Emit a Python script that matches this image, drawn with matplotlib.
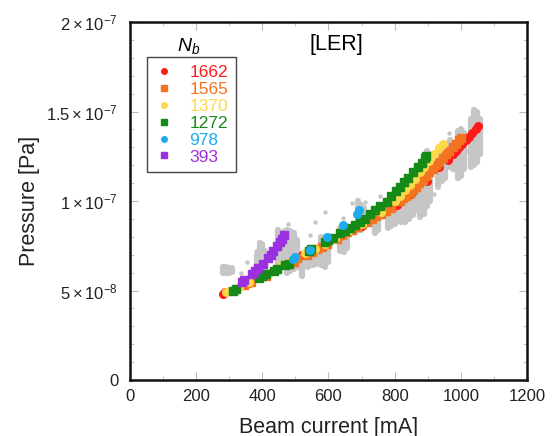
import numpy as np
import matplotlib
matplotlib.use("Agg")
from matplotlib import pyplot as plt
from matplotlib.ticker import FixedLocator, MultipleLocator

plt.rcParams["font.family"] = ["Liberation Sans", "DejaVu Sans"]
plt.rcParams["mathtext.fontset"] = "custom"
plt.rcParams["mathtext.rm"] = "Liberation Sans"
plt.rcParams["mathtext.it"] = "Liberation Sans:italic"
plt.rcParams["mathtext.bf"] = "Liberation Sans:bold"

# pressure values below are in units of 1e-9 Pa
red_x = [281, 288, 520, 640, 700, 760, 798, 806, 850, 899, 935, 960, 975, 985, 995,
         1005, 1015, 1025, 1035, 1045, 1052]
red_y = [48, 49, 70, 81, 86, 93, 97, 98, 104, 111, 119, 123, 126, 128, 130,
         132, 134, 136, 138, 140, 142]

orange_x = [345, 355, 365, 410, 480, 495, 505, 535, 550, 565, 580, 595, 625, 640, 655,
            670, 685, 700, 715, 730, 745, 760, 775, 790, 815, 825, 835, 845, 855, 865,
            875, 885, 895, 905, 915, 925, 935, 945, 955, 965, 975, 985, 995, 1000]
orange_y = [53, 54, 55, 58, 65, 66, 68, 70, 71.5, 73, 74.5, 76, 79, 81, 82.5,
            84, 85.5, 87, 88.5, 90, 91.5, 93, 94.5, 96, 100, 101.5, 103, 104.5, 106, 108,
            110, 112, 114, 116, 118, 120, 122, 124, 126, 128, 130, 132, 134, 135]

yellow_x = [290, 300, 330, 360, 420, 440, 460, 480, 530, 560, 590, 620, 660, 700, 760,
            800, 815, 830, 845, 860, 876, 890, 905, 920, 935, 946]
yellow_y = [49, 50, 52, 55, 60, 62, 64, 66, 71, 73, 76, 79, 83, 87, 94,
            100, 103, 106, 109, 112.5, 116, 119, 122.5, 126, 129.5, 132]

green_x = [310, 320, 390, 400, 410, 435, 445, 470, 480, 540, 548, 590, 600, 615, 635,
           650, 665, 680, 695, 710, 725, 740, 755, 776, 790, 805, 816, 828, 841, 855,
           870, 882, 891, 895]
green_y = [50, 51, 57, 58, 59, 61, 62, 64, 65, 72, 73, 77, 78, 79.5, 82,
           83.5, 85, 86.5, 88, 90, 92.5, 95, 97, 99.5, 103, 105.5, 108, 110.5, 113, 116,
           119, 121.5, 124, 125]

cyan_x = [493, 500, 544, 595, 645, 685, 692]
cyan_y = [67.5, 68.5, 72.6, 80, 86.5, 93, 95]

purple_x = [338, 345, 368, 378, 388, 403, 418, 425, 432, 445, 453, 460, 465]
purple_y = [55, 56, 59, 61, 62.5, 65, 68, 70, 72, 75, 77, 79, 81]

# grey background measurements: vertical streaks (x, low, high) and single dots
gray_x = [280, 290, 300, 308, 385, 393, 400, 408, 448, 458, 475, 485, 495, 505,
          520, 538, 552, 562, 578, 588, 598, 636, 646, 655, 688, 698, 708, 740, 750,
          780, 790, 800, 818, 830, 842, 855, 865, 878, 888, 898, 908, 932, 942, 952,
          968, 975, 990, 1000, 1010, 1030, 1040, 1050, 1057]
gray_lo = [60, 60, 60, 60.5, 60, 58.6, 59, 61, 62, 63, 60, 61, 62, 63,
           58, 63, 64, 65, 64, 63, 66, 72, 71.5, 74, 84, 84, 86, 82, 84,
           85, 86, 87, 88, 88, 90, 92, 95, 91, 93, 97, 100, 108, 111, 113,
           119, 118, 113, 114, 118, 119, 120, 122, 126]
gray_hi = [63, 63, 62.5, 62.5, 70, 76.5, 76, 72, 84, 80, 84, 83, 82, 78,
           68, 72.6, 72, 71, 80, 80, 78, 85, 85.5, 84, 100, 98, 96, 95, 96,
           100, 100.5, 99, 104, 108, 108, 106, 110, 112, 122, 128, 126, 128, 131, 129,
           134, 132, 139, 140, 138, 146, 151, 150, 146]
dot_x = [337, 353, 380, 444, 462, 477, 544, 559, 589, 644, 670, 710, 755, 920, 964, 1020]
dot_y = [60, 66, 72, 83, 84, 87, 81, 88, 94, 90.5, 99, 99.5, 103, 104, 138, 128]

series = [
    ("1662", red_x, red_y, "#ff1a1a", "o"),
    ("1565", orange_x, orange_y, "#f47320", "s"),
    ("1370", yellow_x, yellow_y, "#fcd84a", "o"),
    ("1272", green_x, green_y, "#168a16", "s"),
    ("978", cyan_x, cyan_y, "#1eaaee", "o"),
    ("393", purple_x, purple_y, "#9b30e0", "s"),
]

fig = plt.figure(figsize=(5.52, 4.36), dpi=100)
ax = fig.add_axes([0.2355, 0.1284, 0.7192, 0.8211])

s = 1e-9
ax.vlines(np.array(gray_x), np.array(gray_lo) * s, np.array(gray_hi) * s,
          colors="#c6c6c6", linewidth=4.5, capstyle="round", zorder=1)
ax.scatter(dot_x, np.array(dot_y) * s, s=10, color="#c6c6c6", zorder=1, linewidths=0)

handles = []
for name, xs, ys, col, mk in series:
    ax.plot(xs, np.array(ys) * s, linestyle="none", marker=mk, ms=5.5, color=col,
            mec=col, zorder=2)
    h, = ax.plot([], [], linestyle="none", marker=mk, ms=4, color=col)
    handles.append(h)

ax.set_xlim(0, 1200)
ax.set_ylim(0, 2e-7)
ax.xaxis.set_major_locator(FixedLocator([0, 200, 400, 600, 800, 1000, 1200]))
ax.xaxis.set_minor_locator(MultipleLocator(100))
ax.yaxis.set_major_locator(FixedLocator([0, 5e-8, 1e-7, 1.5e-7, 2e-7]))
ax.yaxis.set_minor_locator(MultipleLocator(1e-8))
ax.set_yticklabels(["0", r"$5\times10^{-8}$", r"$1\times10^{-7}$",
                    r"$1.5\times10^{-7}$", r"$2\times10^{-7}$"])
ax.tick_params(which="both", direction="in", top=True, right=True, color="#bbbbbb",
               labelsize=12, labelcolor="#222222")
ax.tick_params(axis="x", pad=6.5)
ax.tick_params(axis="y", pad=8.5)
ax.tick_params(which="major", length=6, width=0.8)
ax.tick_params(which="minor", length=3, width=0.6)
for sp in ax.spines.values():
    sp.set_linewidth(1.8)
    sp.set_color("#111111")

ax.set_xlabel("Beam current [mA]", fontsize=15.5, color="#222222", labelpad=9)
ax.set_ylabel("Pressure [Pa]", fontsize=15.5, color="#222222", labelpad=5)

ax.text(0.519, 0.936, "[LER]", transform=ax.transAxes, fontsize=15.5, ha="center", va="center")
ax.text(0.148, 0.934, r"$N_b$", transform=ax.transAxes, fontsize=14, ha="center", va="center")

leg = ax.legend(handles, [n for n, *_ in series], loc="upper left",
                bbox_to_anchor=(0.043, 0.902), borderaxespad=0, fancybox=False,
                edgecolor="#444444", fontsize=12.5, handlelength=1.0, handletextpad=1.0,
                labelspacing=0.1, borderpad=0.45, framealpha=1)
leg.get_frame().set_linewidth(1.0)
for t, (_, _, _, col, _) in zip(leg.get_texts(), series):
    t.set_color(col)

fig.savefig("out.png", dpi=100)
